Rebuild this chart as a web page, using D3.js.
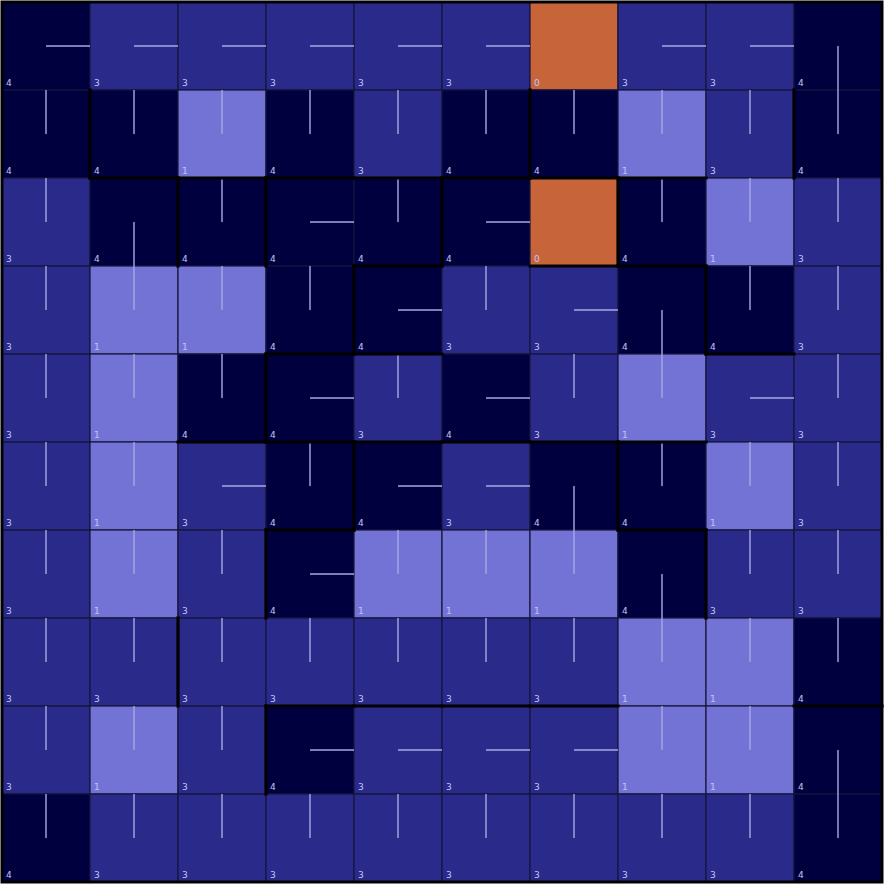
<!DOCTYPE html>
<html><head><meta charset="utf-8">
<script src="https://cdn.jsdelivr.net/npm/d3@7"></script>
<style>html,body{margin:0;padding:0;background:#fff;}svg{display:block;}</style>
</head><body>
<script>
const rows = [0,1,2,3,4,5,6,7,8,9];
const cols = [0,1,2,3,4,5,6,7,8,9];
const values = [
  [4,3,3,3,3,3,0,3,3,4],
  [4,4,1,4,3,4,4,1,3,4],
  [3,4,4,4,4,4,0,4,1,3],
  [3,1,1,4,4,3,3,4,4,3],
  [3,1,4,4,3,4,3,1,3,3],
  [3,1,3,4,4,3,4,4,1,3],
  [3,1,3,4,1,1,1,4,3,3],
  [3,3,3,3,3,3,3,1,1,4],
  [3,1,3,4,3,3,3,1,1,4],
  [4,3,3,3,3,3,3,3,3,4]
];
// R = right, U = up, D = down, N = none
const policy = [
  "RRRRRRNRRD",
  "UUUUUUUUUU",
  "UDURURNUUU",
  "UUUURURDUU",
  "UUURURUURU",
  "UURURRDUUU",
  "UUURUUUDUU",
  "UUUUUUUUUU",
  "UUURRRRUUD",
  "UUUUUUUUUU"
];
// walls on the top edge of cell [row, col]
const hWalls = [[2,1],[2,2],[2,3],[2,4],[2,5],[2,6],[2,7],
  [3,4],[3,6],[3,7],
  [4,3],[4,4],[4,8],
  [5,2],[5,3],[5,4],[5,5],[5,6],[5,7],
  [6,3],[6,7],
  [8,3],[8,4],[8,5],[8,6],[8,9]];
// walls on the left edge of cell [row, col]
const vWalls = [[1,1],[1,6],[1,9],
  [2,2],[2,3],[2,5],[2,7],
  [3,4],[3,8],
  [4,3],
  [5,4],[5,7],
  [6,3],[6,8],
  [7,2],
  [8,3]];
const valueLevels = [0,1,3,4];
const valueColors = ["#c8643a","#7373d6","#2a2a8a","#00003f"];

const W = 884, H = 884, m = 2;
const svg = d3.select("body").append("svg").attr("width", W).attr("height", H);
const x = d3.scaleBand().domain(cols).range([m, W - m]);
const y = d3.scaleBand().domain(rows).range([m, H - m]);
const color = d3.scaleOrdinal().domain(valueLevels).range(valueColors);

const cells = [];
rows.forEach(r => cols.forEach(c => cells.push({r, c, v: values[r][c], p: policy[r][c]})));

svg.append("g").selectAll("rect").data(cells).join("rect")
  .attr("x", d => x(d.c)).attr("y", d => y(d.r))
  .attr("width", x.bandwidth()).attr("height", y.bandwidth())
  .attr("fill", d => color(d.v))
  .attr("stroke", "#14143c").attr("stroke-width", 1.2);

const bw = x.bandwidth(), bh = y.bandwidth();
svg.append("g").selectAll("line").data(cells.filter(d => d.p !== "N")).join("line")
  .attr("x1", d => x(d.c) + bw / 2)
  .attr("y1", d => d.p === "U" ? y(d.r) : y(d.r) + bh / 2)
  .attr("x2", d => d.p === "R" ? x(d.c) + bw : x(d.c) + bw / 2)
  .attr("y2", d => d.p === "U" ? y(d.r) + bh / 2 : d.p === "D" ? y(d.r) + bh : y(d.r) + bh / 2)
  .attr("stroke", "#a8a8e6").attr("stroke-width", 1.4);

svg.append("g").selectAll("text").data(cells).join("text")
  .attr("x", d => x(d.c) + 4).attr("y", d => y(d.r) + bh - 4)
  .attr("font-family", "DejaVu Sans, sans-serif").attr("font-size", 9)
  .attr("fill", "#c4c4f0")
  .text(d => d.v);

const wg = svg.append("g").attr("stroke", "#000").attr("stroke-width", 3.2).attr("stroke-linecap", "square");
wg.selectAll("line.h").data(hWalls).join("line").attr("class", "h")
  .attr("x1", d => x(d[1])).attr("x2", d => x(d[1]) + bw)
  .attr("y1", d => y(d[0])).attr("y2", d => y(d[0]));
wg.selectAll("line.v").data(vWalls).join("line").attr("class", "v")
  .attr("x1", d => x(d[1])).attr("x2", d => x(d[1]))
  .attr("y1", d => y(d[0])).attr("y2", d => y(d[0]) + bh);

svg.append("rect").attr("x", m).attr("y", m).attr("width", W - 2 * m).attr("height", H - 2 * m)
  .attr("fill", "none").attr("stroke", "#000").attr("stroke-width", 3);
</script>
</body></html>
